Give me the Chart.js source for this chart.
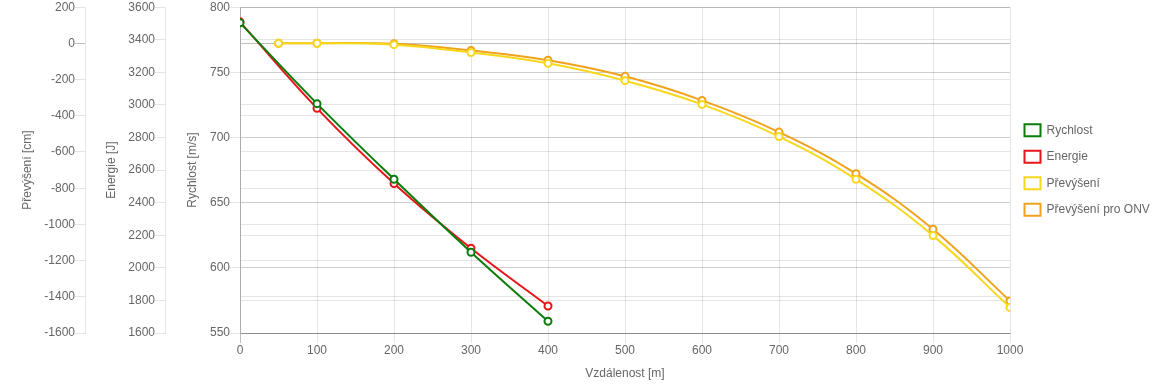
<!DOCTYPE html>
<html>
<head>
<meta charset="utf-8">
<script src="https://cdn.jsdelivr.net/npm/chart.js@4/dist/chart.umd.min.js"></script>
<style>
html,body{margin:0;padding:0;background:#fff;}
#wrap{width:1160px;height:386px;position:relative;}
</style>
</head>
<body>
<div id="wrap"><canvas id="c" width="1160" height="386"></canvas></div>
<script>
// ---- data ----
const distRychlost = [0, 100, 200, 300, 400];
const rychlost = [788, 726, 668, 612, 559];
const energie = [3510, 2979, 2518, 2120, 1766];
const distPrevyseni = [50, 100, 200, 300, 400, 500, 600, 700, 800, 900, 1000];
const prevyseni = [1, 1, -7, -50, -110, -206, -337, -515, -751, -1062, -1459];
const prevyseniONV = [1, 1, -2, -39, -93, -182, -315, -490, -720, -1027, -1423];
const seriesNames = ['Rychlost', 'Energie', 'Převýšení', 'Převýšení pro ONV'];
const axisTitles = {x: 'Vzdálenost [m]', v: 'Rychlost [m/s]', e: 'Energie [J]', p: 'Převýšení [cm]'};

const pts = (xs, ys) => xs.map((x, i) => ({x: x, y: ys[i]}));

Chart.defaults.font.family = "'Liberation Sans', Arial, Helvetica, sans-serif";
Chart.defaults.font.size = 12;
Chart.defaults.color = '#666';

const light = 'rgba(0,0,0,0.1)';
const zero = 'rgba(0,0,0,0.25)';
const gridFn = ctx => (ctx.tick && ctx.tick.value === 0) ? zero : light;
const plain = v => String(v);

function ds(label, data, color, axis) {
  return {
    label: label, data: data, yAxisID: axis,
    borderColor: color, backgroundColor: '#fff',
    pointBackgroundColor: '#fff', pointBorderColor: color,
    borderWidth: 2, pointRadius: 3.5, pointBorderWidth: 2, pointHoverRadius: 3.5,
    tension: 0.4, fill: false
  };
}

function yAxis(title, min, max, step, weight, width, tpad) {
  return {
    type: 'linear', position: 'left', weight: weight, min: min, max: max,
    ticks: {stepSize: step, padding: 0, color: '#666', font: {size: 12}, callback: plain},
    grid: {color: gridFn, tickLength: 10, drawOnChartArea: true},
    border: {color: light},
    title: {display: true, text: title, color: '#666', font: {size: 12}, padding: {top: tpad, bottom: 4}},
    afterFit: s => { s.width = width; }
  };
}

const legendWidthPlugin = {
  id: 'legendWidth',
  beforeUpdate(chart) {
    const lg = chart.legend;
    if (lg && !lg._patched) {
      const orig = lg.fit.bind(lg);
      lg.fit = function () { orig(); this.width = 150; };
      lg._patched = true;
    }
  }
};

new Chart(document.getElementById('c'), {
  type: 'line',
  data: {
    datasets: [
      ds(seriesNames[0], pts(distRychlost, rychlost), '#0a7d0a', 'v'),
      ds(seriesNames[1], pts(distRychlost, energie), '#e8141a', 'e'),
      ds(seriesNames[2], pts(distPrevyseni, prevyseni), '#f7d81d', 'p'),
      ds(seriesNames[3], pts(distPrevyseni, prevyseniONV), '#f0a21c', 'p')
    ]
  },
  plugins: [legendWidthPlugin],
  options: {
    responsive: false,
    animation: false,
    layout: {padding: 0},
    plugins: {
      legend: {
        position: 'right', fullSize: false,
        labels: {boxWidth: 16, boxHeight: 12, padding: 14.5, color: '#666', font: {size: 12}}
      },
      tooltip: {enabled: false}
    },
    scales: {
      x: {
        type: 'linear', min: 0, max: 1000,
        ticks: {stepSize: 100, padding: 0, color: '#666', maxRotation: 0, callback: plain},
        grid: {color: gridFn, tickLength: 10},
        border: {color: zero},
        title: {display: true, text: axisTitles.x, color: '#666', padding: {top: 4, bottom: 5}},
        afterFit: s => { s.height = 53; }
      },
      p: yAxis(axisTitles.p, -1600, 200, 200, 2, 85, 20),
      e: yAxis(axisTitles.e, 1600, 3600, 200, 1, 80, 19),
      v: yAxis(axisTitles.v, 550, 800, 50, 0, 75, 20)
    }
  }
});
</script>
</body>
</html>
